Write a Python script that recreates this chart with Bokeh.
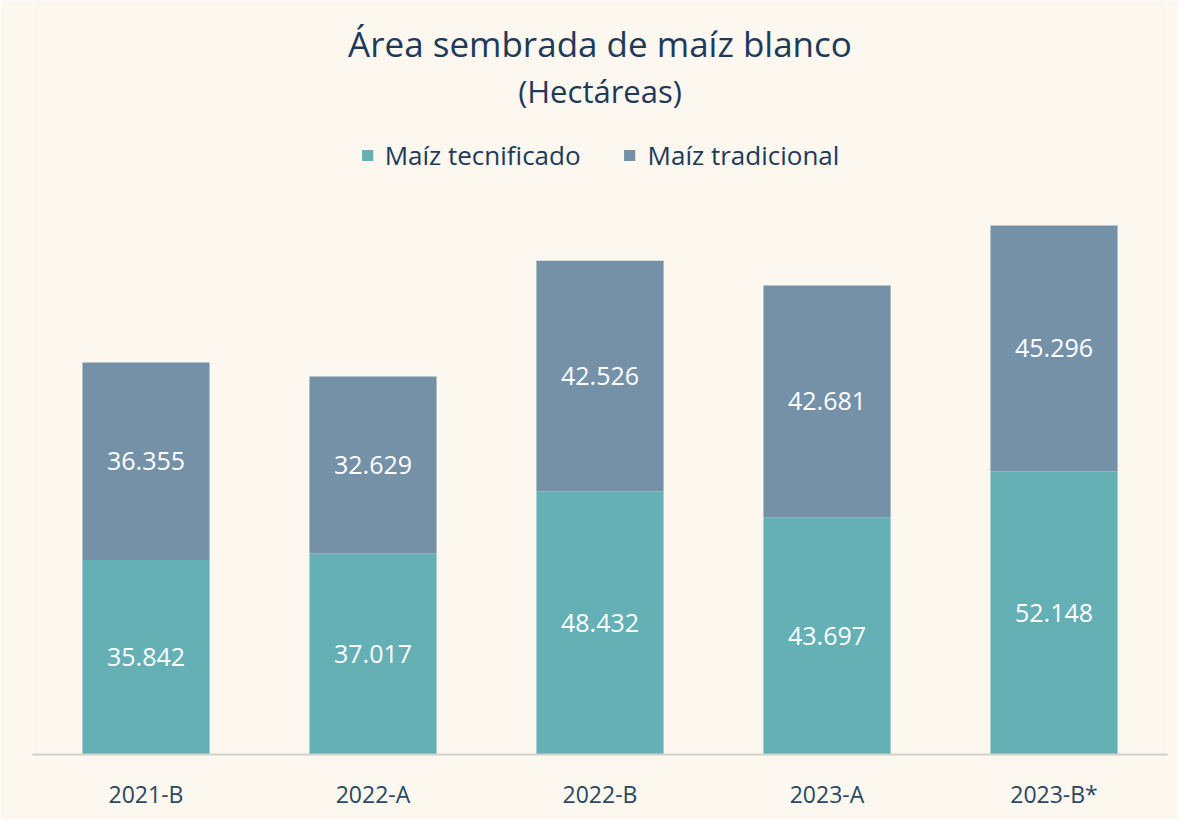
from bokeh.plotting import figure
from bokeh.models import ColumnDataSource, Legend, LegendItem, Label, FactorRange, Range1d
from bokeh.core.properties import value
from bokeh.embed import file_html
from bokeh.resources import INLINE

periods = ["2021-B", "2022-A", "2022-B", "2023-A", "2023-B*"]
tecnificado = [35842, 37017, 48432, 43697, 52148]
tradicional = [36355, 32629, 42526, 42681, 45296]
series_names = ["Maíz tecnificado", "Maíz tradicional"]
title_text = "Área sembrada de maíz blanco"
subtitle_text = "(Hectáreas)"

BG = "#FCF7EF"
TEAL = "#64B0B5"
SLATE = "#7591A7"
NAVY = "#1E3A5A"
FONT = "Open Sans"

Y_END = 138900          # frame spans the full height above the baseline
FRAME_TOP_PX = 8        # page y of frame top
FRAME_BOTTOM_PX = 762   # page y of baseline


def fmt(v):
    return f"{v:,}".replace(",", ".")


def page_y(py):
    # convert a page pixel row to a data y inside the tall frame
    return (FRAME_BOTTOM_PX - py) * Y_END / (FRAME_BOTTOM_PX - FRAME_TOP_PX)


src = ColumnDataSource(dict(
    period=periods,
    tec=tecnificado,
    tra=tradicional,
    tec_mid=[t / 2 for t in tecnificado],
    tra_mid=[t + r / 2 for t, r in zip(tecnificado, tradicional)],
    tec_lbl=[fmt(v) for v in tecnificado],
    tra_lbl=[fmt(v) for v in tradicional],
))

p = figure(
    x_range=FactorRange(*periods, range_padding=0),
    y_range=Range1d(0, Y_END),
    width=1178, height=819,
    output_backend="svg", toolbar_location=None,
    background_fill_color=BG, border_fill_color=BG,
    min_border_left=32, min_border_right=11, min_border_bottom=65, min_border_top=0,
    title=None,
)

rs = p.vbar_stack(["tec", "tra"], x="period", width=0.56, source=src,
                  color=[TEAL, SLATE], line_color=None)

for ycol, lcol in (("tec_mid", "tec_lbl"), ("tra_mid", "tra_lbl")):
    p.text(x="period", y=ycol, text=lcol, source=src,
           text_align="center", text_baseline="middle", text_color="white",
           text_font=value(FONT), text_font_size="25px")

legend = Legend(
    items=[LegendItem(label=series_names[0], renderers=[rs[0]]),
           LegendItem(label=series_names[1], renderers=[rs[1]])],
    orientation="horizontal", location="top_center",
    glyph_width=14, glyph_height=14, label_standoff=11, spacing=42,
    label_text_font=FONT, label_text_font_size="26px", label_text_color=NAVY,
    background_fill_alpha=0, border_line_alpha=0, padding=0, margin=137,
)
p.add_layout(legend, "center")

center_x = len(periods) / 2  # synthetic coordinate of the middle of the x range
p.add_layout(Label(x=center_x, y=page_y(51), text=title_text,
                   text_align="center", text_baseline="middle",
                   text_font=FONT, text_font_size="35px", text_color=NAVY))
p.add_layout(Label(x=center_x, y=page_y(98), text=subtitle_text,
                   text_align="center", text_baseline="middle",
                   text_font=FONT, text_font_size="31px", text_color=NAVY))

p.xgrid.grid_line_color = None
p.ygrid.grid_line_color = None
p.outline_line_color = None
p.yaxis.visible = False
p.xaxis.axis_line_color = "#D3D1CC"
p.xaxis.axis_line_width = 2
p.xaxis.major_tick_line_color = None
p.xaxis.minor_tick_line_color = None
p.xaxis.major_label_text_font = FONT
p.xaxis.major_label_text_font_size = "23px"
p.xaxis.major_label_text_color = "#2B4762"
p.xaxis.major_label_standoff = 17

open("out.html", "w").write(file_html(p, INLINE))
